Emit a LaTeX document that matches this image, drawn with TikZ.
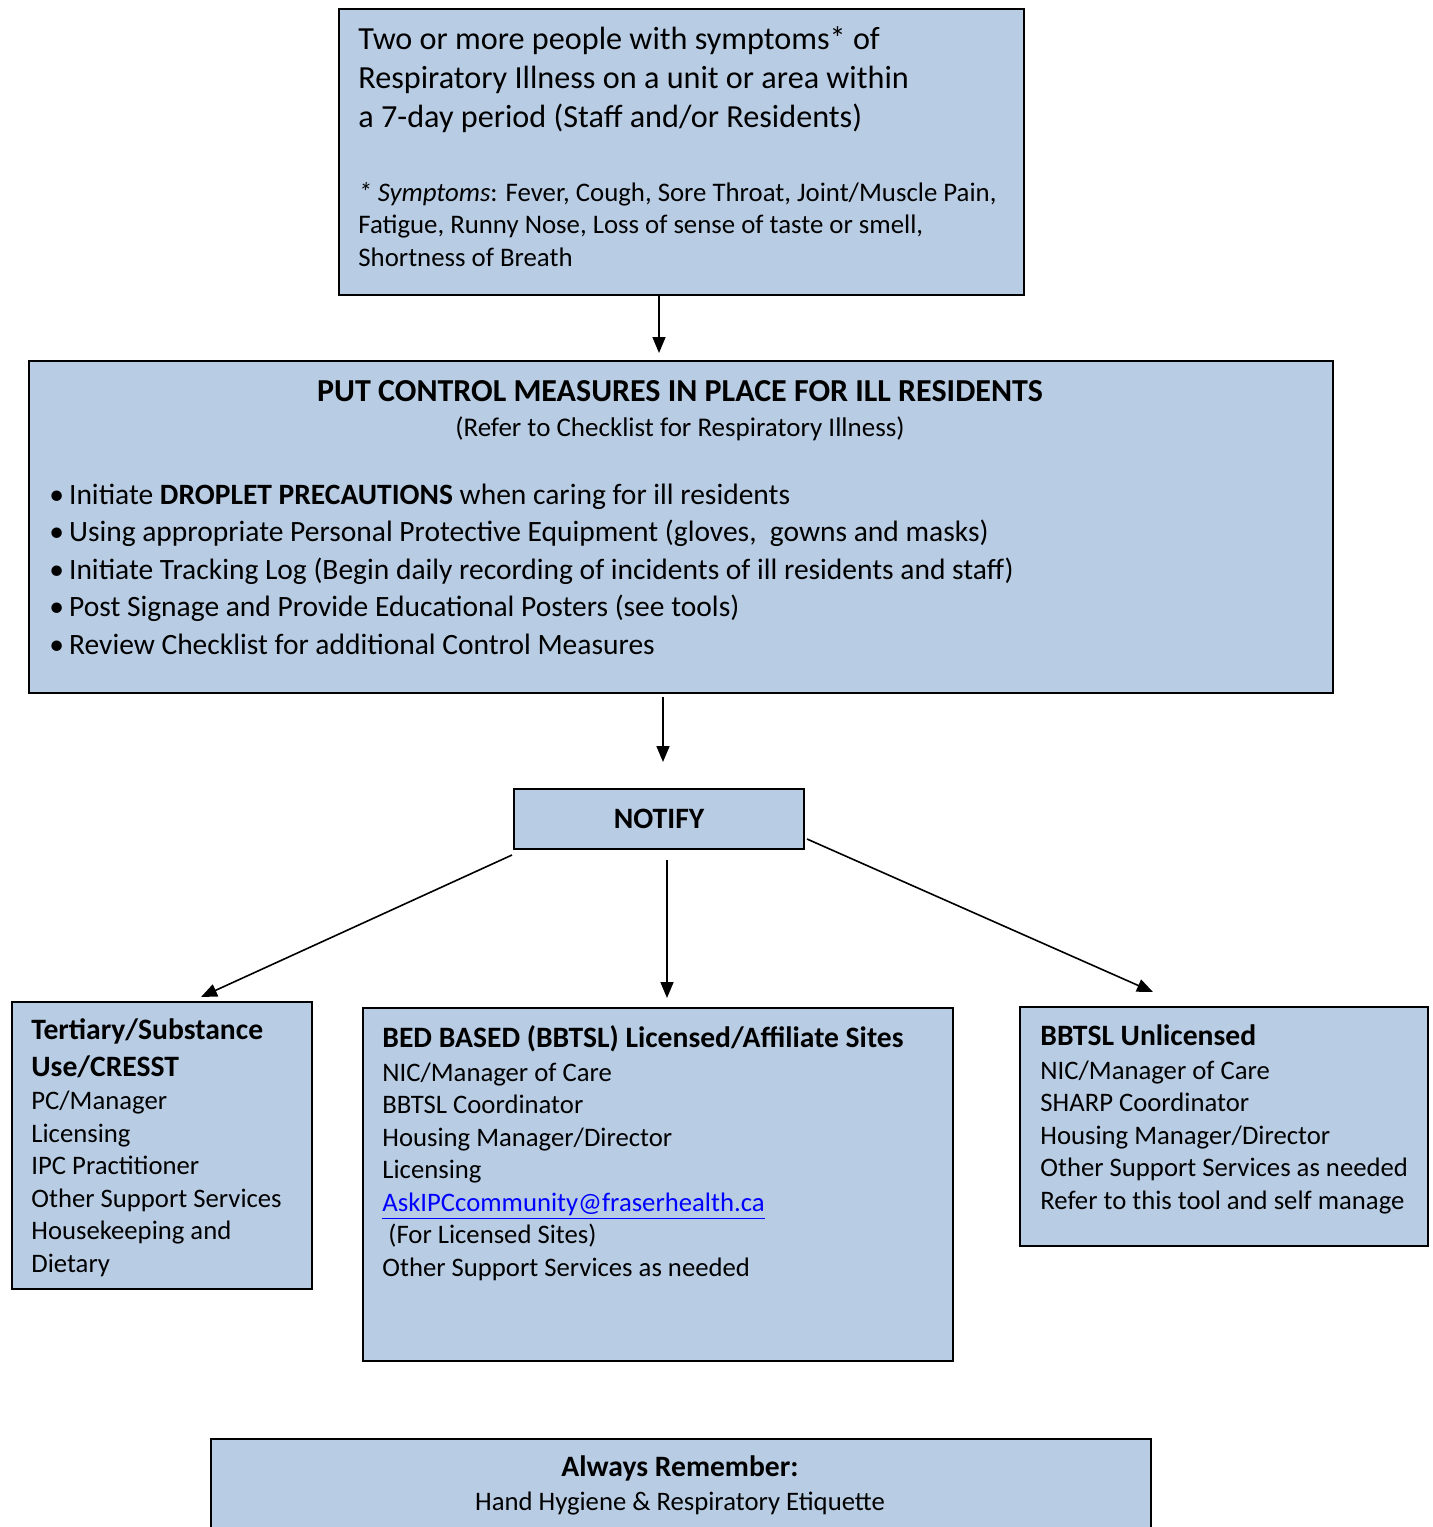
\documentclass[tikz,border=0pt]{standalone}
\usepackage{fontspec}
\setmainfont{Carlito}
\usetikzlibrary{arrows.meta,positioning}
\definecolor{panel-fill}{HTML}{B8CCE4}
\definecolor{link-blue}{HTML}{0000FF}
\newcommand{\bodysize}{\fontsize{13.35}{16.25}\selectfont}
\newcommand{\headsize}{\bfseries\fontsize{14.8}{18.5}\selectfont}
\newcommand{\bul}{\textbullet\hspace{2.5pt}}

\tikzset{
  panel/.style={draw=black, line width=1pt, fill=panel-fill, anchor=north west, inner sep=0pt},
  % anchored at the baseline of the last line
  label text/.style={anchor=base west, align=left, inner sep=0pt, font=\bodysize},
  flow/.style={-{Triangle[length=8pt,width=6.5pt]}, line width=0.8pt},
}

\begin{document}
\begin{tikzpicture}[x=0.5pt, y=-0.5pt]
  \clip (0,0) rectangle (1433,1527);
  \fill[white] (0,0) rectangle (1433,1527);

  % boxes
  \node[panel, minimum width=342.5pt, minimum height=143pt] (onset) at (338,8) {};
  \node[panel, minimum width=652pt, minimum height=166pt] (control) at (28,360) {};
  \node[panel, minimum width=145pt, minimum height=30pt, font=\headsize] (notify) at (513,788) {NOTIFY};
  \node[panel, minimum width=150pt, minimum height=143.5pt] (tertiary) at (11,1001) {};
  \node[panel, minimum width=295pt, minimum height=176.5pt] (bedbased) at (362,1007) {};
  \node[panel, minimum width=204pt, minimum height=119.5pt] (unlicensed) at (1019,1006) {};
  \node[panel, minimum width=470pt, minimum height=70pt] (remember) at (210,1438) {};

  % texts
  \node[label text, font=\fontsize{16.1}{19.5}\selectfont] (onset-text) at (358,127)
    {Two or more people with symptoms* of\\Respiratory Illness on a unit or area within\\a 7-day period (Staff and/or Residents)};
  \node[label text, font=\fontsize{13.4}{16.25}\selectfont] (symptoms) at (358,266)
    {\textit{* Symptoms}: Fever, Cough, Sore Throat, Joint/Muscle Pain,\\Fatigue, Runny Nose, Loss of sense of taste or smell,\\Shortness of Breath};

  \node[anchor=base, inner sep=0pt, font=\bfseries\fontsize{16}{19}\selectfont] (control-head) at (680,401)
    {PUT CONTROL MEASURES IN PLACE FOR ILL RESIDENTS};
  \node[anchor=base, inner sep=0pt, font=\fontsize{13.5}{16}\selectfont] (control-ref) at (680,436)
    {(Refer to Checklist for Respiratory Illness)};
  \node[label text, font=\fontsize{14.75}{18.75}\selectfont] (control-list) at (49,654)
    {\bul Initiate \textbf{DROPLET PRECAUTIONS} when caring for ill residents\\
     \bul Using appropriate Personal Protective Equipment (gloves,\ \ gowns and masks)\\
     \bul Initiate Tracking Log (Begin daily recording of incidents of ill residents and staff)\\
     \bul Post Signage and Provide Educational Posters (see tools)\\
     \bul Review Checklist for additional Control Measures};

  \node[label text, font=\headsize] (tertiary-head) at (31,1076)
    {Tertiary/Substance\\Use/CRESST};
  \node[label text] (tertiary-list) at (31,1272)
    {PC/Manager\\Licensing\\IPC Practitioner\\Other Support Services\\Housekeeping and\\Dietary};

  \node[label text, font=\headsize] (bedbased-head) at (382,1047)
    {BED BASED (BBTSL) Licensed/Affiliate Sites};
  \node[label text] (bedbased-list) at (382,1276)
    {NIC/Manager of Care\\BBTSL Coordinator\\Housing Manager/Director\\Licensing\\
     \textcolor{link-blue}{\underline{AskIPCcommunity@fraserhealth.ca}}\\
     \ (For Licensed Sites)\\Other Support Services as needed};

  \node[label text, font=\headsize] (unlicensed-head) at (1040,1045)
    {BBTSL Unlicensed};
  \node[label text] (unlicensed-list) at (1040,1209)
    {NIC/Manager of Care\\SHARP Coordinator\\Housing Manager/Director\\Other Support Services as needed\\Refer to this tool and self manage};

  \node[anchor=base, inner sep=0pt, font=\headsize] (remember-head) at (680,1476)
    {Always Remember:};
  \node[anchor=base, inner sep=0pt, font=\bodysize] (remember-text) at (680,1510)
    {Hand Hygiene \& Respiratory Etiquette};

  % connectors
  \draw[flow] ([shift={(-22.5,0)}]onset.south) -- ([shift={(-22,-7)}]control.north);
  \draw[flow] ([shift={(-18,3)}]control.south) -- ([shift={(4,-26)}]notify.north);
  \draw[flow] ([shift={(-1,5)}]notify.south west) -- ([shift={(39,-4)}]tertiary.north);
  \draw[flow] ([shift={(8,10)}]notify.south) -- ([shift={(9,-9)}]bedbased.north);
  \draw[flow] ([shift={(2,20)}]notify.east) -- ([shift={(-71,-14)}]unlicensed.north);
\end{tikzpicture}
\end{document}
